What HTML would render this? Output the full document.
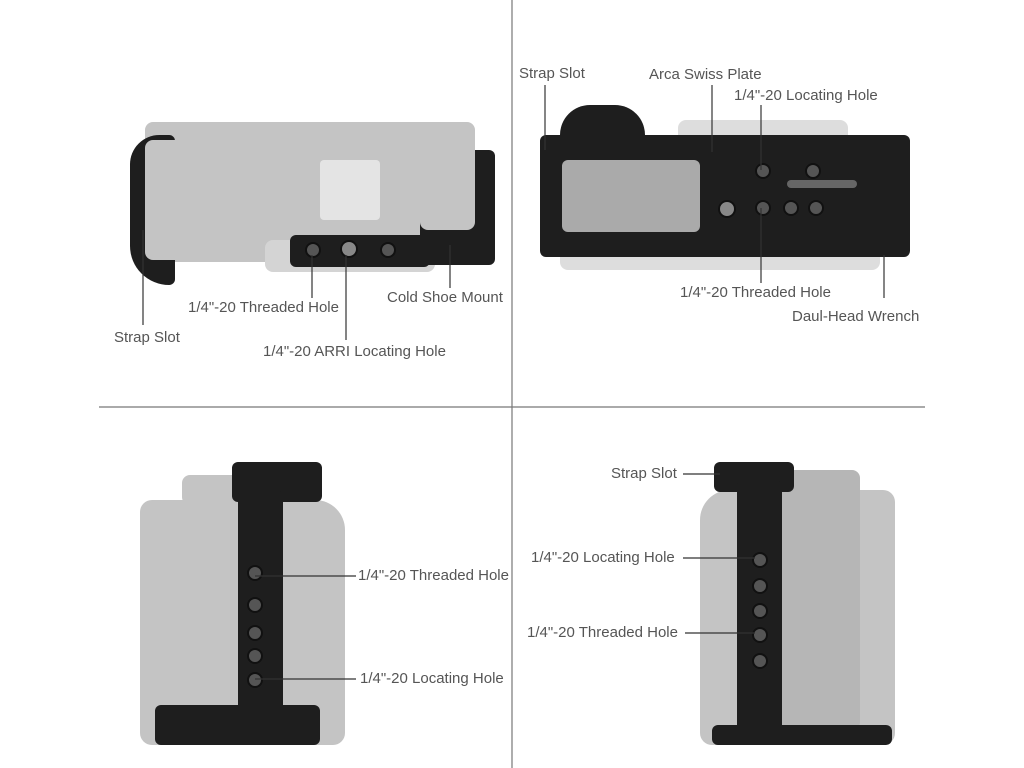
<!DOCTYPE html>
<html><head><meta charset="utf-8"><style>
body{margin:0;width:1024px;height:768px;background:#fff;position:relative;overflow:hidden;font-family:"Liberation Sans",sans-serif}
.t{position:absolute;font-size:15px;color:#555;white-space:nowrap;line-height:16px}
.g{position:absolute;background:#c4c4c4;border-radius:8px}
.k{position:absolute;background:#1e1e1e;border-radius:6px}
.h{position:absolute;background:#555;border-radius:50%;border:2px solid #111}
</style></head><body>
<!-- Q1 -->
<div class="g" style="left:145px;top:122px;width:330px;height:140px"></div>
<div class="g" style="left:265px;top:240px;width:170px;height:32px;background:#d4d4d4"></div>
<div class="g" style="left:320px;top:160px;width:60px;height:60px;background:#e4e4e4;border-radius:4px"></div>
<div class="k" style="left:130px;top:135px;width:45px;height:150px;border-radius:30px 6px 6px 40px"></div>
<div class="g" style="left:145px;top:140px;width:45px;height:120px"></div>
<div class="k" style="left:290px;top:235px;width:140px;height:32px"></div>
<div class="k" style="left:420px;top:150px;width:75px;height:115px"></div>
<div class="g" style="left:420px;top:140px;width:55px;height:90px"></div>
<div class="h" style="left:305px;top:242px;width:12px;height:12px"></div>
<div class="h" style="left:340px;top:240px;width:14px;height:14px;background:#888"></div>
<div class="h" style="left:380px;top:242px;width:12px;height:12px"></div>
<div class="t" style="left:114px;top:330px">Strap Slot</div>
<div class="t" style="left:188px;top:300px">1/4"-20 Threaded Hole</div>
<div class="t" style="left:387px;top:290px">Cold Shoe Mount</div>
<div class="t" style="left:263px;top:344px">1/4"-20 ARRI Locating Hole</div>
<!-- Q2 -->
<div class="g" style="left:678px;top:120px;width:170px;height:30px;background:#ddd"></div>
<div class="g" style="left:560px;top:240px;width:320px;height:30px;background:#ddd"></div>
<div class="k" style="left:540px;top:135px;width:370px;height:122px"></div>
<div class="k" style="left:560px;top:105px;width:85px;height:45px;border-radius:30px 30px 0 0"></div>
<div class="g" style="left:562px;top:160px;width:138px;height:72px;background:#aaa;border-radius:6px"></div>
<div class="g" style="left:787px;top:180px;width:70px;height:8px;background:#666"></div>
<div class="h" style="left:755px;top:163px;width:12px;height:12px"></div>
<div class="h" style="left:805px;top:163px;width:12px;height:12px"></div>
<div class="h" style="left:755px;top:200px;width:12px;height:12px"></div>
<div class="h" style="left:783px;top:200px;width:12px;height:12px"></div>
<div class="h" style="left:808px;top:200px;width:12px;height:12px"></div>
<div class="h" style="left:718px;top:200px;width:14px;height:14px;background:#888"></div>
<div class="t" style="left:519px;top:66px">Strap Slot</div>
<div class="t" style="left:649px;top:67px">Arca Swiss Plate</div>
<div class="t" style="left:734px;top:88px">1/4"-20 Locating Hole</div>
<div class="t" style="left:680px;top:285px">1/4"-20 Threaded Hole</div>
<div class="t" style="left:792px;top:309px">Daul-Head Wrench</div>
<!-- Q3 -->
<div class="g" style="left:182px;top:475px;width:70px;height:30px"></div>
<div class="g" style="left:140px;top:500px;width:205px;height:245px;border-radius:12px 30px 12px 12px"></div>
<div class="k" style="left:232px;top:462px;width:90px;height:40px"></div>
<div class="k" style="left:238px;top:490px;width:45px;height:250px"></div>
<div class="k" style="left:155px;top:705px;width:165px;height:40px"></div>
<div class="h" style="left:247px;top:565px;width:12px;height:12px"></div>
<div class="h" style="left:247px;top:597px;width:12px;height:12px"></div>
<div class="h" style="left:247px;top:625px;width:12px;height:12px"></div>
<div class="h" style="left:247px;top:648px;width:12px;height:12px"></div>
<div class="h" style="left:247px;top:672px;width:12px;height:12px"></div>
<div class="t" style="left:358px;top:568px">1/4"-20 Threaded Hole</div>
<div class="t" style="left:360px;top:671px">1/4"-20 Locating Hole</div>
<!-- Q4 -->
<div class="g" style="left:700px;top:490px;width:195px;height:255px;border-radius:30px 12px 12px 12px"></div>
<div class="g" style="left:778px;top:470px;width:82px;height:260px;background:#b6b6b6"></div>
<div class="k" style="left:714px;top:462px;width:80px;height:30px"></div>
<div class="k" style="left:737px;top:480px;width:45px;height:265px"></div>
<div class="k" style="left:712px;top:725px;width:180px;height:20px"></div>
<div class="h" style="left:752px;top:552px;width:12px;height:12px"></div>
<div class="h" style="left:752px;top:578px;width:12px;height:12px"></div>
<div class="h" style="left:752px;top:603px;width:12px;height:12px"></div>
<div class="h" style="left:752px;top:627px;width:12px;height:12px"></div>
<div class="h" style="left:752px;top:653px;width:12px;height:12px"></div>
<div class="t" style="left:611px;top:466px">Strap Slot</div>
<div class="t" style="left:531px;top:550px">1/4"-20 Locating Hole</div>
<div class="t" style="left:527px;top:625px">1/4"-20 Threaded Hole</div>
<svg width="1024" height="768" style="position:absolute;left:0;top:0" stroke="#333" stroke-width="1.2" fill="none">
<line x1="512" y1="0" x2="512" y2="768" stroke="#777"/>
<line x1="99" y1="407" x2="925" y2="407" stroke="#777"/>
<line x1="143" y1="325" x2="143" y2="230"/>
<line x1="312" y1="298" x2="312" y2="255"/>
<line x1="346" y1="340" x2="346" y2="255"/>
<line x1="450" y1="288" x2="450" y2="245"/>
<line x1="545" y1="85" x2="545" y2="150"/>
<line x1="712" y1="85" x2="712" y2="152"/>
<line x1="761" y1="105" x2="761" y2="170"/>
<line x1="761" y1="283" x2="761" y2="208"/>
<line x1="884" y1="298" x2="884" y2="255"/>
<line x1="255" y1="576" x2="356" y2="576"/>
<line x1="255" y1="679" x2="356" y2="679"/>
<line x1="683" y1="474" x2="720" y2="474"/>
<line x1="683" y1="558" x2="755" y2="558"/>
<line x1="685" y1="633" x2="755" y2="633"/>
</svg>
</body></html>
